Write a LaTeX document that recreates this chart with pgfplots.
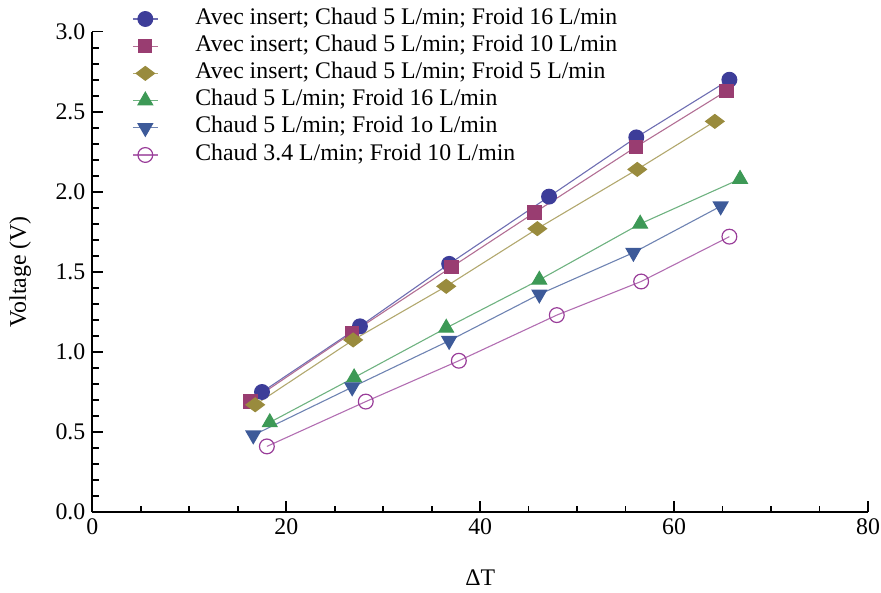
\documentclass[border=0pt]{standalone}
\usepackage{fontspec}
\setmainfont{Liberation Serif}
\usepackage{pgfplots}
\pgfplotsset{compat=1.18}

% Mathematica default plot colours
\definecolor{c1}{rgb}{0.24,0.24,0.6}
\definecolor{c2}{rgb}{0.6,0.24,0.443}
\definecolor{c3}{rgb}{0.6,0.547,0.24}
\definecolor{c4}{rgb}{0.24,0.6,0.337}
\definecolor{c5}{rgb}{0.24,0.353,0.6}
\definecolor{c6}{rgb}{0.6,0.24,0.6}

\begin{document}
\begin{tikzpicture}[font=\fontsize{11.9}{14}\selectfont]
\begin{axis}[
    scale only axis,
    width=387.9pt, height=240.2pt,
    xmin=0, xmax=80, ymin=0, ymax=3,
    axis lines=left,
    axis line style={-, line width=0.9pt},
    xtick={0,20,40,60,80},
    ytick={0,0.5,1,1.5,2,2.5,3},
    minor x tick num=3,
    minor y tick num=4,
    major tick length=5.5pt,
    minor tick length=3.2pt,
    every tick/.style={black, line width=0.8pt},
    tick align=inside,
    /pgf/number format/assume math mode=true,
    xticklabel style={inner xsep=0pt},
    yticklabel style={/pgf/number format/.cd, fixed, fixed zerofill, precision=1},
    xlabel={ΔT},
    ylabel={Voltage (V)},
    xlabel style={at={(axis description cs:0.5,-0.137)}, anchor=center},
    ylabel style={at={(axis description cs:-0.093,0.5)}, anchor=center},
    clip=false,
    legend cell align=left,
    legend image code/.code={
        \draw[mark repeat=2, mark phase=2] plot coordinates {(0pt,0pt) (6.25pt,0pt) (12.5pt,0pt)};
        \path (31pt,0pt);
    },
    legend style={draw=none, fill=none, inner sep=0pt, row sep=0pt,
        at={(axis description cs:0.051,1.0556)}, anchor=north west,
        nodes={inner sep=0pt, text height=9.4pt, text depth=4.2pt, anchor=west}},
]
\path (axis description cs:-0.119,-0.1666) rectangle (axis description cs:1.0167,1.066);

\addplot[c1!75!white, line width=0.55pt, mark=*, mark size=3.7pt, mark options={c1, fill=c1}]
    coordinates {(17.5,0.75) (27.6,1.16) (36.8,1.55) (47.1,1.97) (56.1,2.34) (65.7,2.70)};
\addlegendentry{Avec insert; Chaud 5 L/min; Froid 16 L/min}

\addplot[c2!75!white, line width=0.55pt, mark=square*, mark size=3.3pt, mark options={c2, fill=c2}]
    coordinates {(16.3,0.69) (26.8,1.12) (37.05,1.53) (45.6,1.87) (56.05,2.28) (65.4,2.63)};
\addlegendentry{Avec insert; Chaud 5 L/min; Froid 10 L/min}

\addplot[c3!75!white, line width=0.55pt, mark=diamond*, mark size=4.6pt, mark options={c3, fill=c3, rotate=90}]
    coordinates {(16.8,0.67) (26.9,1.075) (36.5,1.41) (45.9,1.77) (56.2,2.14) (64.2,2.44)};
\addlegendentry{Avec insert; Chaud 5 L/min; Froid 5 L/min}

\addplot[c4!75!white, line width=0.55pt, mark=triangle*, mark size=4.2pt, mark options={c4, fill=c4}]
    coordinates {(18.3,0.56) (27.0,0.84) (36.5,1.15) (46.1,1.45) (56.5,1.80) (66.8,2.08)};
\addlegendentry{Chaud 5 L/min; Froid 16 L/min}

\addplot[c5!75!white, line width=0.55pt, mark=triangle*, mark size=4.2pt, mark options={c5, fill=c5, rotate=180}]
    coordinates {(16.6,0.48) (26.8,0.78) (36.8,1.07) (46.1,1.36) (55.8,1.62) (64.8,1.91)};
\addlegendentry{Chaud 5 L/min; Froid 1o L/min}

\addplot[c6!75!white, line width=0.55pt, mark=o, mark size=3.7pt, mark options={c6, line width=0.6pt}]
    coordinates {(18.0,0.41) (28.2,0.69) (37.8,0.945) (47.9,1.23) (56.6,1.44) (65.7,1.72)};
\addlegendentry{Chaud 3.4 L/min; Froid 10 L/min}
\end{axis}
\end{tikzpicture}
\end{document}
